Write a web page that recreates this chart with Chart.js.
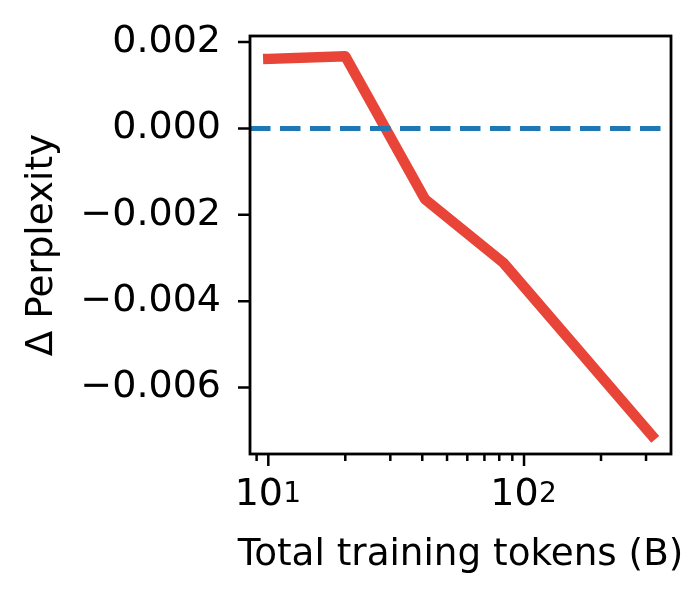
<!DOCTYPE html>
<html>
<head>
<meta charset="utf-8">
<script src="https://cdn.jsdelivr.net/npm/chart.js@4"></script>
<style>
  body { margin: 0; background: #fff; }
  #wrap { width: 698px; height: 601px; }
</style>
</head>
<body>
<div id="wrap"><canvas id="chart" width="698" height="601"></canvas></div>
<script>
// values
var tokens = [10, 20, 41, 83, 316];
var deltaPpl = [0.00161, 0.00167, -0.00164, -0.00311, -0.00711];

var xTickValues = [9, 10, 20, 30, 40, 50, 60, 70, 80, 90, 100, 200, 300];
// major x ticks: base and exponent
var xMajorLabels = { 10: ['10', '1'], 100: ['10', '2'] };
var yTickValues = [-0.006, -0.004, -0.002, 0, 0.002];
var xTitle = 'Total training tokens (B)';
var yTitle = '\u0394 Perplexity';

var xMin = 8.48, xMax = 375.6;
var yMin = -0.00754, yMax = 0.00214;
var baseline = 0;

var FAMILY = "'DejaVu Sans'";
Chart.defaults.font.family = FAMILY;
Chart.defaults.font.size = 38;
Chart.defaults.color = '#000';

// box round the plot, matplotlib-style tick marks, exponents on the log ticks,
// and the x title (Chart.js squeezes it to the axis width otherwise)
var frame = {
  id: 'frame',
  afterDraw: function (chart) {
    var ctx = chart.ctx, a = chart.chartArea;
    var xs = chart.scales.x, ys = chart.scales.y;
    ctx.save();
    ctx.strokeStyle = '#000';
    ctx.lineWidth = 2.5;
    ctx.beginPath();
    ys.ticks.forEach(function (t) {
      var y = ys.getPixelForValue(t.value);
      ctx.moveTo(a.left - 12, y);
      ctx.lineTo(a.left, y);
    });
    xs.ticks.forEach(function (t) {
      var x = xs.getPixelForValue(t.value);
      var len = xMajorLabels[t.value] ? 12 : 7;
      ctx.moveTo(x, a.bottom);
      ctx.lineTo(x, a.bottom + len);
    });
    ctx.stroke();
    ctx.lineWidth = 2.8;
    ctx.strokeRect(a.left, a.top, a.right - a.left, a.bottom - a.top);

    ctx.fillStyle = '#000';
    ctx.font = '28px ' + FAMILY;
    ctx.textAlign = 'left';
    ctx.textBaseline = 'alphabetic';
    xs.ticks.forEach(function (t) {
      var lab = xMajorLabels[t.value];
      if (!lab) return;
      var x = xs.getPixelForValue(t.value);
      ctx.fillText(lab[1], x + 15, a.bottom + 48);
    });

    ctx.font = '37.3px ' + FAMILY;
    ctx.textAlign = 'center';
    ctx.fillText(xTitle, (a.left + a.right) / 2, a.bottom + 111);
    ctx.restore();
  }
};

var ctx = document.getElementById('chart');
new Chart(ctx, {
  type: 'line',
  data: {
    datasets: [{
      label: 'zero',
      data: [{ x: xMin, y: baseline }, { x: xMax, y: baseline }],
      borderColor: '#1f77b4',
      borderWidth: 5,
      borderDash: [20.5, 9.5],
      borderCapStyle: 'butt',
      pointRadius: 0,
      order: 0
    }, {
      label: 'delta',
      data: tokens.map(function (t, i) { return { x: t, y: deltaPpl[i] }; }),
      borderColor: '#e84538',
      borderWidth: 10.5,
      borderCapStyle: 'square',
      borderJoinStyle: 'round',
      pointRadius: 0,
      tension: 0,
      order: 1
    }]
  },
  options: {
    responsive: false,
    animation: false,
    layout: { padding: { top: 36, right: 27, left: 0, bottom: 0 } },
    plugins: { legend: { display: false }, tooltip: { enabled: false } },
    scales: {
      x: {
        type: 'logarithmic',
        min: xMin,
        max: xMax,
        afterBuildTicks: function (scale) {
          scale.ticks = xTickValues.map(function (v) { return { value: v }; });
        },
        afterFit: function (scale) {
          scale.height = 147;
          scale.paddingLeft = 0;
          scale.paddingRight = 0;
        },
        grid: { display: false, drawTicks: false },
        border: { display: false },
        ticks: {
          autoSkip: false,
          maxRotation: 0,
          padding: 18,
          font: { family: FAMILY, size: 38 },
          // en space leaves room for the exponent drawn by the plugin
          callback: function (v) { return xMajorLabels[v] ? xMajorLabels[v][0] + '\u2002' : ''; }
        },
        title: { display: false }
      },
      y: {
        min: yMin,
        max: yMax,
        afterBuildTicks: function (scale) {
          scale.ticks = yTickValues.map(function (v) { return { value: v }; });
        },
        afterFit: function (scale) {
          scale.width = 250;
          scale.paddingTop = 0;
          scale.paddingBottom = 0;
        },
        grid: { display: false, drawTicks: false },
        border: { display: false },
        ticks: {
          autoSkip: false,
          padding: 29,
          font: { family: FAMILY, size: 38 },
          callback: function (v) { return v.toFixed(3).replace('-', '\u2212'); }
        },
        title: {
          display: true,
          text: yTitle,
          font: { family: FAMILY, size: 37.3 },
          padding: { top: 19.7, bottom: 0 }
        }
      }
    }
  },
  plugins: [frame]
});
</script>
</body>
</html>
